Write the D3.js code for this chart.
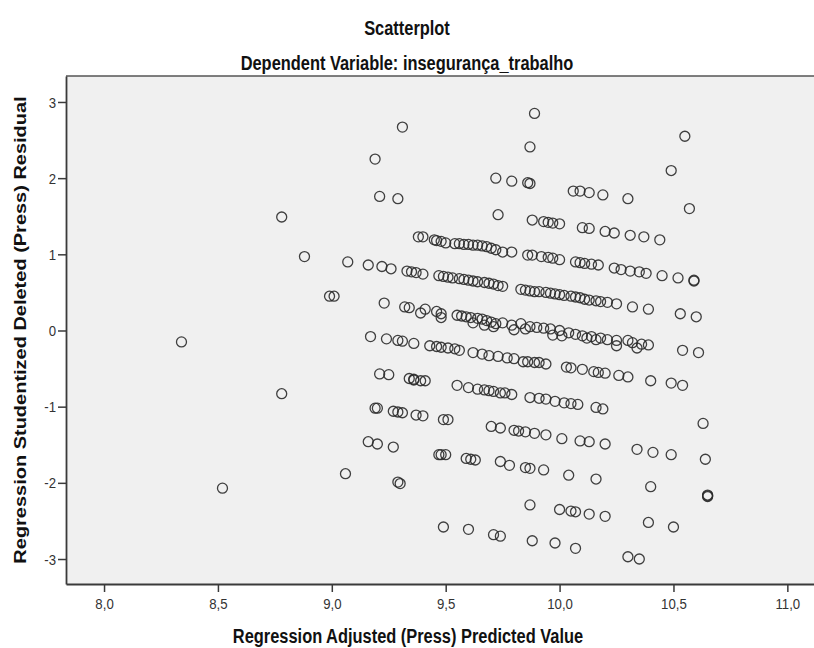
<!DOCTYPE html>
<html>
<head>
<meta charset="utf-8">
<script src="https://cdn.jsdelivr.net/npm/d3@7"></script>
<style>
  body { margin: 0; background: #ffffff; }
  svg { display: block; }
</style>
</head>
<body>
<svg id="chart" width="814" height="648"></svg>
<script>
// Regression diagnostics: adjusted (press) predicted value vs. studentized deleted residual
const predicted = [
  // isolated cases on the left
  8.34, 8.78, 8.88, 9.07, 8.99, 9.01, 8.78, 9.06, 8.52,
  // upper cases
  9.31, 9.19, 9.21, 9.29, 9.89, 9.87, 9.72, 9.79, 9.86, 9.87, 9.73, 10.55, 10.49, 10.57, 10.06, 10.09, 10.13, 10.19, 10.30,
  9.88, 9.93, 9.95, 9.97, 10.00, 10.10, 10.13, 10.20, 10.24, 10.31, 10.37, 10.44,
  9.38, 9.40, 9.45, 9.46, 9.48, 9.50, 9.54, 9.56, 9.58, 9.60, 9.62, 9.64, 9.66, 9.68, 9.70, 9.72, 9.75, 9.79,
  9.86, 9.88, 9.92, 9.95, 9.97, 10.00, 10.07, 10.09, 10.11, 10.14, 10.17, 10.24, 10.27, 10.31, 10.35, 10.38, 10.45, 10.52, 10.59, 10.59,
  9.16, 9.22, 9.26, 9.33, 9.35, 9.37, 9.40, 9.47, 9.49, 9.51, 9.53, 9.56, 9.58, 9.60, 9.62, 9.64, 9.67, 9.69, 9.71, 9.73, 9.75,
  9.83, 9.85, 9.87, 9.89, 9.91, 9.94, 9.96, 9.98, 10.00, 10.02, 10.05, 10.07, 10.09, 10.11, 10.13, 10.16, 10.18, 10.21, 10.25,
  10.32, 10.39, 10.53, 10.60,
  // cases around zero
  9.23, 9.32, 9.34, 9.39, 9.41, 9.46, 9.48, 9.48, 9.55, 9.57, 9.59, 9.61, 9.64, 9.66, 9.68, 9.70, 9.72, 9.62, 9.67, 9.71, 9.75, 9.79, 9.80,
  9.83, 9.85, 9.87, 9.90, 9.93, 9.96, 9.97, 10.00, 10.01, 10.04, 10.07, 10.10, 10.12, 10.14, 10.16, 10.18, 10.21, 10.25, 10.25,
  10.30, 10.32, 10.34, 10.36, 10.39, 10.54, 10.61,
  9.17, 9.24, 9.29, 9.31, 9.36, 9.43, 9.46, 9.48, 9.51, 9.54, 9.56, 9.62, 9.66, 9.69, 9.73, 9.77, 9.80,
  9.84, 9.86, 9.89, 9.91, 9.94, 10.03, 10.05, 10.10, 10.15, 10.17, 10.20, 10.26, 10.30, 10.40, 10.49, 10.54,
  // lower cases
  9.21, 9.25, 9.34, 9.36, 9.36, 9.39, 9.41, 9.55, 9.60, 9.64, 9.67, 9.69, 9.71, 9.74, 9.76, 9.79,
  9.87, 9.91, 9.94, 9.98, 10.02, 10.05, 10.08, 10.16, 10.19, 10.63,
  9.19, 9.20, 9.27, 9.29, 9.31, 9.37, 9.40, 9.49, 9.51, 9.70, 9.74, 9.80, 9.82, 9.85, 9.89, 9.94,
  10.01, 10.09, 10.13, 10.20, 10.34, 10.41, 10.49, 10.64,
  9.16, 9.20, 9.27, 9.47, 9.48, 9.50, 9.59, 9.61, 9.63, 9.74, 9.78, 9.85, 9.87, 9.93, 10.04, 10.16, 10.40, 10.65, 10.65, 10.65,
  9.29, 9.30,
  9.87, 10.00, 10.05, 10.07, 10.13, 10.20, 10.39, 10.50,
  9.49, 9.60, 9.71, 9.74, 9.88, 9.98, 10.07, 10.30, 10.35
];

const residual = [
  -0.15, 1.49, 0.97, 0.90, 0.45, 0.45, -0.83, -1.88, -2.07,
  2.67, 2.25, 1.76, 1.73, 2.85, 2.41, 2.00, 1.96, 1.94, 1.93, 1.52, 2.55, 2.10, 1.60, 1.83, 1.83, 1.81, 1.78, 1.73,
  1.45, 1.43, 1.42, 1.41, 1.40, 1.35, 1.34, 1.30, 1.28, 1.25, 1.23, 1.19,
  1.23, 1.23, 1.19, 1.18, 1.17, 1.15, 1.14, 1.14, 1.13, 1.13, 1.12, 1.12, 1.11, 1.10, 1.08, 1.06, 1.03, 1.03,
  0.99, 0.99, 0.97, 0.96, 0.95, 0.93, 0.90, 0.89, 0.88, 0.87, 0.86, 0.82, 0.80, 0.78, 0.77, 0.75, 0.72, 0.69, 0.65, 0.66,
  0.86, 0.84, 0.81, 0.78, 0.77, 0.76, 0.74, 0.72, 0.71, 0.70, 0.69, 0.68, 0.67, 0.66, 0.65, 0.64, 0.63, 0.62, 0.61, 0.59, 0.58,
  0.54, 0.53, 0.52, 0.51, 0.51, 0.50, 0.49, 0.48, 0.47, 0.46, 0.45, 0.44, 0.43, 0.41, 0.40, 0.39, 0.38, 0.37, 0.35,
  0.31, 0.28, 0.22, 0.18,
  0.36, 0.31, 0.30, 0.23, 0.28, 0.25, 0.22, 0.17, 0.20, 0.19, 0.18, 0.17, 0.16, 0.15, 0.13, 0.11, 0.09, 0.10, 0.07, 0.05, 0.10, 0.07, 0.01,
  0.09, 0.02, 0.05, 0.04, 0.03, 0.02, -0.06, 0.00, -0.07, -0.03, -0.05, -0.07, -0.10, -0.08, -0.12, -0.10, -0.12, -0.13, -0.20,
  -0.13, -0.16, -0.23, -0.18, -0.19, -0.26, -0.29,
  -0.08, -0.11, -0.13, -0.14, -0.17, -0.20, -0.21, -0.22, -0.23, -0.24, -0.26, -0.29, -0.31, -0.33, -0.34, -0.36, -0.37,
  -0.41, -0.41, -0.42, -0.42, -0.44, -0.48, -0.49, -0.51, -0.54, -0.55, -0.56, -0.59, -0.61, -0.66, -0.69, -0.72,
  -0.57, -0.58, -0.63, -0.64, -0.65, -0.66, -0.66, -0.72, -0.75, -0.77, -0.78, -0.79, -0.80, -0.82, -0.82, -0.84,
  -0.88, -0.89, -0.90, -0.93, -0.95, -0.96, -0.97, -1.01, -1.03, -1.22,
  -1.02, -1.02, -1.06, -1.07, -1.08, -1.11, -1.12, -1.17, -1.17, -1.26, -1.28, -1.31, -1.32, -1.33, -1.35, -1.37,
  -1.42, -1.45, -1.46, -1.49, -1.56, -1.60, -1.63, -1.69,
  -1.46, -1.49, -1.53, -1.63, -1.63, -1.63, -1.68, -1.69, -1.70, -1.72, -1.77, -1.80, -1.81, -1.83, -1.90, -1.95, -2.05, -2.16, -2.18, -2.17,
  -1.99, -2.01,
  -2.29, -2.35, -2.37, -2.38, -2.41, -2.44, -2.52, -2.58,
  -2.58, -2.61, -2.68, -2.70, -2.76, -2.79, -2.86, -2.97, -3.00
];

const xTickValues = [8.0, 8.5, 9.0, 9.5, 10.0, 10.5, 11.0];
const yTickValues = [-3, -2, -1, 0, 1, 2, 3];

const chartTitle = "Scatterplot";
const chartSubtitle = "Dependent Variable: insegurança_trabalho";
const xAxisTitle = "Regression Adjusted (Press) Predicted Value";
const yAxisTitle = "Regression Studentized Deleted (Press) Residual";

const points = predicted.map((p, i) => ({ p, r: residual[i] }));

const svg = d3.select("#chart");
const FONT = "Arial, 'Liberation Sans', Helvetica, sans-serif";
const SQUEEZE = 0.82;          // narrow letterforms used for the titles
const INK = "#3a3a3a";

const plot = { left: 66, top: 76, right: 814, bottom: 584 };

const x = d3.scaleLinear().domain([7.833, 11.117]).range([plot.left, plot.right]);
const y = d3.scaleLinear().domain([-3.328, 3.341]).range([plot.bottom, plot.top]);

// horizontally narrowed text
function condense(sel, k) {
  sel.each(function () {
    const w = this.getComputedTextLength();
    d3.select(this).attr("textLength", (w * k).toFixed(2)).attr("lengthAdjust", "spacingAndGlyphs");
  });
}

// plot background
svg.append("rect")
  .attr("x", plot.left).attr("y", plot.top)
  .attr("width", plot.right - plot.left).attr("height", plot.bottom - plot.top)
  .attr("fill", "#f0f0f0");

// top frame line
svg.append("line")
  .attr("x1", plot.left).attr("x2", plot.right)
  .attr("y1", plot.top).attr("y2", plot.top)
  .attr("stroke", "#555").attr("stroke-width", 1.4);

// points
svg.append("g")
  .selectAll("circle")
  .data(points)
  .join("circle")
  .attr("cx", d => x(d.p))
  .attr("cy", d => y(d.r))
  .attr("r", 5)
  .attr("fill", "none")
  .attr("stroke", "#2b2b2b")
  .attr("stroke-opacity", 0.9)
  .attr("stroke-width", 1.3);

const commaFmt = d => d3.format(".1f")(d).replace(".", ",");

// x axis
const gx = svg.append("g")
  .attr("transform", `translate(0,${plot.bottom})`)
  .call(d3.axisBottom(x).tickValues(xTickValues).tickFormat(commaFmt)
    .tickSize(8).tickSizeOuter(0).tickPadding(6));

// y axis
const gy = svg.append("g")
  .attr("transform", `translate(${plot.left},0)`)
  .call(d3.axisLeft(y).tickValues(yTickValues).tickFormat(d => String(d))
    .tickSize(8).tickSizeOuter(0).tickPadding(2));

[gx, gy].forEach(g => {
  g.select(".domain").attr("stroke", INK).attr("stroke-width", 1.8);
  g.selectAll(".tick line").attr("stroke", INK).attr("stroke-width", 1.5);
  g.selectAll(".tick text")
    .attr("font-family", FONT).attr("font-size", 15).attr("fill", "#333");
});
gy.selectAll(".tick text").attr("dy", "0.34em");
gx.selectAll(".tick text").call(condense, 0.88);
gy.selectAll(".tick text").call(condense, 0.88);

// titles
svg.append("text")
  .attr("x", 407).attr("y", 35)
  .attr("text-anchor", "middle")
  .attr("font-family", FONT).attr("font-weight", "bold").attr("font-size", 20)
  .attr("fill", "#111")
  .text(chartTitle)
  .call(condense, SQUEEZE);

svg.append("text")
  .attr("x", 407).attr("y", 70)
  .attr("text-anchor", "middle")
  .attr("font-family", FONT).attr("font-weight", "bold").attr("font-size", 20)
  .attr("fill", "#111")
  .text(chartSubtitle)
  .call(condense, SQUEEZE);

svg.append("text")
  .attr("x", 408).attr("y", 643)
  .attr("text-anchor", "middle")
  .attr("font-family", FONT).attr("font-weight", "bold").attr("font-size", 20)
  .attr("fill", "#111")
  .text(xAxisTitle)
  .call(condense, SQUEEZE);

svg.append("text")
  .attr("transform", `translate(26,${(plot.top + plot.bottom) / 2}) rotate(-90) scale(1,${SQUEEZE})`)
  .attr("text-anchor", "middle")
  .attr("font-family", FONT).attr("font-weight", "bold").attr("font-size", 20)
  .attr("fill", "#111")
  .text(yAxisTitle);
</script>
</body>
</html>
